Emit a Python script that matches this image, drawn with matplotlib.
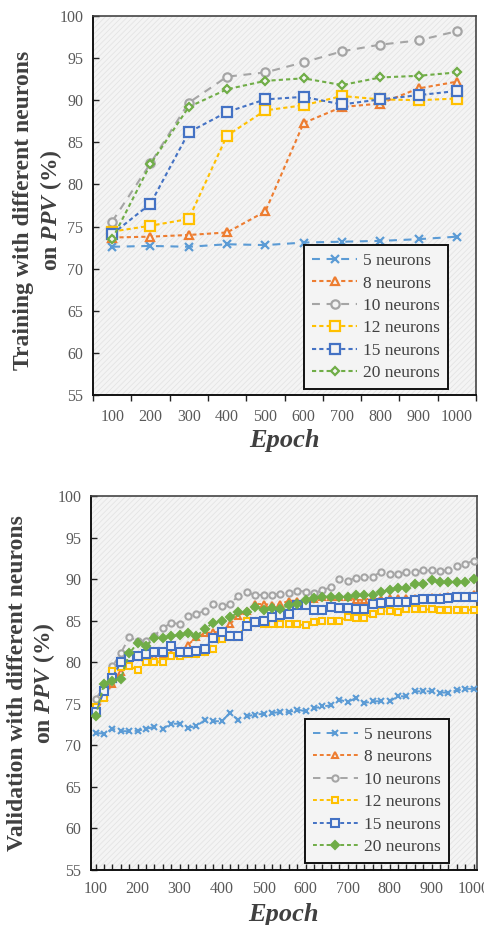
import numpy as np
import matplotlib
matplotlib.use('Agg')
import matplotlib.pyplot as plt
from matplotlib.patches import Rectangle
from matplotlib.ticker import MultipleLocator, FixedLocator

plt.rcParams['font.family'] = ['Liberation Serif', 'DejaVu Serif']
plt.rcParams['mathtext.fontset'] = 'custom'
plt.rcParams['mathtext.it'] = 'Liberation Serif:bold:italic'
plt.rcParams['hatch.linewidth'] = 0.6

# ---- data: training (10 epochs) ----
train_epochs = [100, 200, 300, 400, 500, 600, 700, 800, 900, 1000]
train_5 = [72.6, 72.7, 72.6, 72.9, 72.8, 73.1, 73.2, 73.3, 73.5, 73.8]
train_8 = [73.7, 73.8, 74.0, 74.3, 76.8, 87.3, 89.2, 89.6, 91.4, 92.2]
train_10 = [75.6, 82.5, 89.7, 92.8, 93.3, 94.5, 95.8, 96.6, 97.1, 98.2]
train_12 = [74.4, 75.1, 75.9, 85.8, 88.8, 89.4, 90.5, 90.1, 90.0, 90.2]
train_15 = [74.1, 77.7, 86.2, 88.6, 90.1, 90.4, 89.5, 90.1, 90.6, 91.1]
train_20 = [73.5, 82.4, 89.2, 91.3, 92.3, 92.6, 91.8, 92.7, 92.9, 93.3]

# ---- data: validation (every 20 epochs) ----
val_epochs = list(range(100, 1001, 20))
val_5 = [71.5, 71.4, 72.0, 71.7, 71.7, 71.75, 72.0, 72.2, 72.0, 72.6,
         72.6, 72.1, 72.35, 73.0, 72.9, 72.9, 73.9, 73.0, 73.5, 73.7,
         73.8, 73.9, 74.0, 74.0, 74.3, 74.1, 74.45, 74.7, 74.8, 75.5,
         75.2, 75.7, 75.1, 75.3, 75.3, 75.3, 75.9, 75.9, 76.5, 76.5,
         76.5, 76.35, 76.35, 76.6, 76.8, 76.8]
val_8 = [73.9, 75.8, 77.4, 78.8, 80.5, 80.6, 80.5, 80.6, 80.9, 81.0,
         81.0, 82.1, 83.0, 83.5, 83.6, 83.7, 84.6, 85.6, 86.2, 87.0,
         87.0, 86.9, 87.0, 87.4, 87.4, 87.3, 87.6, 87.8, 87.8, 87.8,
         87.8, 87.5, 87.5, 87.8, 87.6, 87.7, 87.7, 87.7, 87.75, 87.7,
         87.8, 87.8, 88.0, 87.8, 88.0, 88.2]
val_10 = [75.6, 77.0, 79.5, 81.1, 83.0, 82.6, 82.6, 83.2, 84.1, 84.75,
          84.6, 85.6, 85.8, 86.2, 87.0, 86.75, 87.0, 88.0, 88.4, 88.1,
          88.1, 88.1, 88.25, 88.35, 88.6, 88.5, 88.3, 88.7, 89.0, 90.05,
          89.8, 90.15, 90.2, 90.3, 90.9, 90.6, 90.65, 90.85, 90.85, 91.05,
          91.05, 91.0, 91.05, 91.55, 91.85, 92.2]
val_12 = [74.6, 75.7, 79.0, 79.4, 79.5, 79.1, 80.0, 80.0, 80.0, 80.8,
          80.8, 81.0, 81.0, 81.2, 81.6, 82.85, 83.0, 83.0, 84.95, 84.7,
          84.55, 84.55, 84.55, 84.55, 84.55, 84.45, 84.85, 84.95, 84.95, 84.95,
          85.45, 85.3, 85.3, 85.85, 86.15, 86.15, 86.05, 86.45, 86.35, 86.35,
          86.35, 86.3, 86.3, 86.3, 86.3, 86.3]
val_15 = [74.0, 76.5, 78.15, 80.0, 80.6, 80.7, 81.0, 81.2, 81.2, 81.9,
          81.2, 81.2, 81.35, 81.55, 82.95, 83.6, 83.1, 83.1, 84.4, 84.8,
          85.0, 85.5, 85.65, 85.85, 86.85, 86.85, 86.3, 86.3, 86.7, 86.55,
          86.5, 86.45, 86.45, 87.05, 87.1, 87.25, 87.25, 87.3, 87.45, 87.65,
          87.6, 87.6, 87.7, 87.9, 87.9, 87.9]
val_20 = [73.5, 77.4, 77.8, 78.0, 81.05, 82.35, 82.0, 82.9, 82.95, 83.1,
          83.3, 83.5, 83.15, 84.0, 84.75, 84.9, 85.4, 86.0, 86.0, 86.6,
          86.3, 86.5, 86.45, 86.85, 87.05, 87.5, 87.7, 87.9, 87.85, 87.85,
          87.9, 88.05, 88.05, 88.05, 88.5, 88.65, 88.9, 88.9, 89.45, 89.4,
          89.85, 89.6, 89.6, 89.65, 89.65, 90.05]

labels = ['5 neurons', '8 neurons', '10 neurons', '12 neurons', '15 neurons', '20 neurons']
colors = ['#5B9BD5', '#ED7D31', '#A5A5A5', '#FFC000', '#4472C4', '#70AD47']
markers = ['x', '^', 'o', 's', 's', 'D']
long_dash = (0, (3.8, 3.2))
short_dash = (0, (2.0, 1.5))
styles = [long_dash, short_dash, long_dash, short_dash, short_dash, short_dash]

BG = '#f4f4f4'
TXT = '#595959'
LAB = '#404040'

fig = plt.figure(figsize=(4.85, 9.25), dpi=100)
ax1 = fig.add_axes([93 / 485, 1 - 395 / 925, 383 / 485, 379 / 925])
ax2 = fig.add_axes([91 / 485, 1 - 870 / 925, 386 / 485, 374 / 925])


def style_axes(ax):
    ax.set_facecolor(BG)
    ax.add_patch(Rectangle((0, 0), 1, 1, transform=ax.transAxes, facecolor=BG,
                           edgecolor='#e4e4e4', hatch='//////', lw=0, zorder=0))
    for side in ['top', 'right']:
        ax.spines[side].set_color('#444444')
        ax.spines[side].set_linewidth(1.2)
    for side in ['left', 'bottom']:
        ax.spines[side].set_color('#111111')
        ax.spines[side].set_linewidth(1.4)
    ax.set_ylim(55, 100)
    ax.yaxis.set_major_locator(MultipleLocator(5))
    ax.tick_params(axis='y', direction='in', length=4, width=1, colors='#222222',
                   labelcolor=TXT, labelsize=11.5, pad=7)


def style_legend(leg):
    leg.get_frame().set_edgecolor('#111111')
    leg.get_frame().set_linewidth(1.4)
    leg.get_frame().set_facecolor(BG)
    for t in leg.get_texts():
        t.set_color(LAB)


# ---- top chart ----
style_axes(ax1)
pos = np.arange(1, len(train_epochs) + 1)
train_series = [train_5, train_8, train_10, train_12, train_15, train_20]
top_ms = [6, 6, 6, 7, 7.5, 4.5]
for vals, lab, c, m, ls, ms in zip(train_series, labels, colors, markers, styles, top_ms):
    ax1.plot(pos, vals, color=c, ls=ls, lw=1.5, marker=m, ms=ms,
             mfc=(c if m == 'x' else BG), mec=c, mew=1.6, label=lab, zorder=3)
ax1.set_xlim(0.5, len(train_epochs) + 0.5)
ax1.set_xticks(pos)
ax1.set_xticklabels([str(e) for e in train_epochs])
ax1.xaxis.set_minor_locator(FixedLocator(np.arange(0.5, len(train_epochs) + 1, 1.0)))
ax1.tick_params(axis='x', which='major', length=0, labelcolor=TXT, labelsize=11.5, pad=10)
ax1.tick_params(axis='x', which='minor', direction='out', length=4, width=1, color='#222222')
leg1 = ax1.legend(loc='lower right', bbox_to_anchor=(0.927, 0.016), fontsize=12.5,
                  handlelength=2.6, handletextpad=0.35, labelspacing=0.36,
                  borderpad=0.45, borderaxespad=0, fancybox=False, framealpha=1)
style_legend(leg1)

# ---- bottom chart ----
style_axes(ax2)
val_series = [val_5, val_8, val_10, val_12, val_15, val_20]
bot_ms = [4.5, 4.5, 4.5, 5, 5.5, 4.5]
for vals, lab, c, m, ls, ms in zip(val_series, labels, colors, markers, styles, bot_ms):
    ax2.plot(val_epochs, vals, color=c, ls=ls, lw=1.4, marker=m, ms=ms,
             mfc=(c if m in ('x', 'D') else BG), mec=c, mew=1.5, label=lab, zorder=3)
ax2.set_xlim(89, 1008)
ax2.set_xticks(range(100, 1001, 100))
ax2.xaxis.set_minor_locator(MultipleLocator(20))
ax2.tick_params(axis='x', which='both', direction='in', length=4, width=1, color='#222222',
                labelcolor=TXT, labelsize=11.5, pad=8)
leg2 = ax2.legend(loc='lower right', bbox_to_anchor=(0.927, 0.019), fontsize=12.5,
                  handlelength=2.6, handletextpad=0.35, labelspacing=0.36,
                  borderpad=0.45, borderaxespad=0, fancybox=False, framealpha=1)
style_legend(leg2)

# ---- axis titles ----
fig.text(0.0794, 0.773, 'Training with different neurons\non $PPV$ (%)', rotation=90,
         ha='center', va='center', multialignment='center', fontsize=17,
         fontweight='bold', color=LAB, linespacing=1.2)
fig.text(0.066, 0.2616, 'Validation with different neurons\non $PPV$ (%)', rotation=90,
         ha='center', va='center', multialignment='center', fontsize=17,
         fontweight='bold', color=LAB, linespacing=1.2)
fig.text(284.5 / 485, 1 - 441 / 925, 'Epoch', ha='center', va='center', fontsize=19,
         fontweight='bold', fontstyle='italic', color=LAB)
fig.text(283 / 485, 1 - 914 / 925, 'Epoch', ha='center', va='center', fontsize=19,
         fontweight='bold', fontstyle='italic', color=LAB)

fig.savefig('out.png', dpi=100, facecolor='white')
